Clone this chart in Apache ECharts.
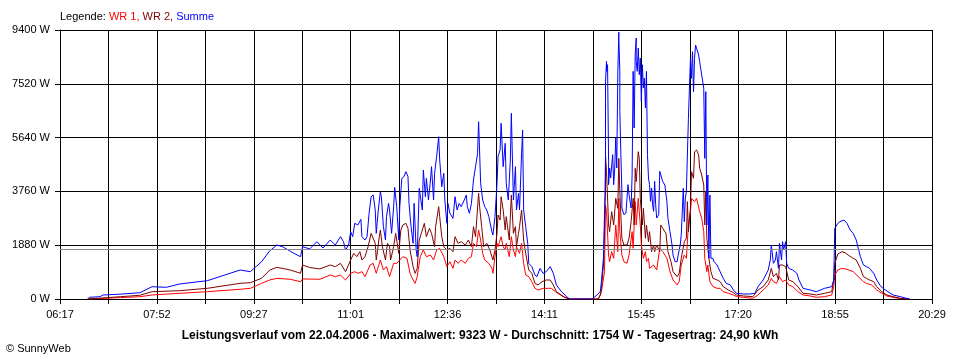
<!DOCTYPE html>
<html>
<head>
<meta charset="utf-8">
<script src="https://cdn.jsdelivr.net/npm/echarts@6/dist/echarts.min.js"></script>
<style>
html,body{margin:0;padding:0;background:#fff;}
#chart{width:960px;height:360px;}
</style>
</head>
<body>
<div id="chart"></div>
<script>
// ---- Data ----
const tickLabels = ["06:17","07:52","09:27","11:01","12:36","14:11","15:45","17:20","18:55","20:29"];
const yTicks = [0, 1880, 3760, 5640, 7520, 9400];
const averageW = 1754;
const titleText = "Leistungsverlauf vom 22.04.2006 - Maximalwert: 9323 W - Durchschnitt: 1754 W - Tagesertrag: 24,90 kWh";

const wr1 = [["06:44",0],["06:56",15],["07:16",50],["07:35",80],["07:47",140],["08:14",200],["08:41",255],["09:13",340],["09:23",374],["09:34",548],["09:42",664],["09:49",723],["10:02",688],["10:12",605],["10:14",700],["10:31",690],
["10:41",838],["10:46",780],["10:51",838],["10:56",664],["11:01",897],["11:05",955],["11:08",897],["11:12",955],["11:15",780],["11:20",1188],["11:23",1246],["11:26",897],["11:30",1362],["11:33",1013],["11:36",1130],["11:39",780],["11:43",1246],["11:46",1246],["11:49",1362],["11:52",1479],["11:56",1421],["11:59",897],["12:02",664],["12:04",547],["12:06",780],["12:09",1479],["12:12",1712],["12:15",1479],["12:19",1537],["12:22",1362],["12:25",1712],["12:28",1770],["12:32",1479],["12:35",1130],
["12:38",1304],["12:41",1071],["12:43",1362],["12:46",1246],["12:49",1362],["12:53",1246],["12:56",1421],["12:59",1479],["13:01",1945],["13:04",1828],["13:06",2411],["13:08",2061],["13:10",1595],["13:12",1362],["13:16",1246],["13:19",1071],["13:20",897],["13:22",1479],["13:24",1945],["13:25",1828],["13:27",2061],["13:28",2178],["13:30",1828],["13:32",1712],["13:33",1945],["13:36",1479],["13:38",2178],["13:40",1712],["13:42",1479],["13:43",1828],["13:46",1595],["13:48",1945],["13:50",1246],["13:52",838],["13:55",780],["13:58",606],["14:01",373],["14:04",314],["14:09",373],["14:14",373],["14:17",373],["14:21",256],["14:26",140],["14:32",23],["14:35",0],
["15:03",0],["15:06",256],["15:09",955],["15:10",3285],["15:11",3052],["15:13",1538],["15:14",1305],["15:16",1654],["15:18",1421],["15:20",2586],["15:22",1654],["15:23",3518],["15:24",2353],["15:26",1538],["15:28",1305],["15:31",1247],["15:33",1538],["15:36",2353],["15:37",1770],["15:39",3401],["15:40",2586],["15:42",3518],["15:44",2586],["15:45",1887],["15:47",1421],["15:49",1654],["15:50",1305],["15:52",1421],["15:53",1072],["15:57",1188],["16:00",1014],["16:03",1770],["16:06",1654],["16:10",1421],["16:13",955],["16:16",664],["16:20",490],["16:22",606],["16:24",1188],["16:27",1538],["16:29",1421],["16:31",2586],["16:33",3052],["16:34",3518],["16:37",3401],["16:39",3518],["16:42",3052],["16:44",2819],["16:46",2353],["16:47",1421],["16:49",955],["16:50",1188],["16:52",606],["16:55",431],["16:59",373],["17:02",373],["17:05",256],["17:10",200],
["17:15",140],["17:18",82],["17:25",58],["17:34",23],["17:39",140],["17:44",314],["17:49",489],["17:52",722],["17:54",606],["17:57",547],["18:00",780],["18:03",606],["18:06",664],["18:09",489],["18:13",431],["18:18",256],["18:23",140],["18:30",105],["18:36",58],["18:44",82],["18:51",140],["18:53",431],["18:54",839],["18:57",1013],["19:01",1072],["19:06",1037],["19:12",955],["19:17",780],["19:22",606],["19:25",547],["19:30",489],["19:35",314],["19:40",198],["19:45",105],["19:51",58],["19:58",12],["20:07",0]];

const wr2 = [["06:44",0],["06:56",30],["07:16",80],["07:35",130],["07:47",255],["08:14",290],["08:41",374],["09:13",548],["09:23",570],["09:34",723],["09:42",1013],["09:49",1107],["10:02",1013],["10:12",898],["10:14",1188],["10:21",1100],["10:31",1050],
["10:41",1188],["10:46",1130],["10:51",1246],["10:56",955],["11:01",1362],["11:04",1595],["11:07",1479],["11:10",1654],["11:12",1362],["11:15",1479],["11:18",1828],["11:21",2294],["11:22",2352],["11:25",1945],["11:26",1362],["11:29",2178],["11:30",2411],["11:32",1828],["11:35",1362],["11:37",1945],["11:39",1828],["11:40",1362],["11:43",1828],["11:45",2294],["11:48",1595],["11:50",2411],["11:52",2586],["11:55",2644],["11:57",2469],["11:59",1712],["12:02",1130],["12:04",897],["12:06",1071],["12:08",2061],["12:10",2294],["12:13",2644],["12:15",2178],["12:18",2469],["12:20",2294],["12:23",1828],["12:24",2527],["12:27",3226],["12:28",2877],["12:30",2178],["12:32",1828],["12:35",1712],
["12:38",1770],["12:41",1654],["12:43",2178],["12:46",1945],["12:49",2003],["12:53",1887],["12:56",2061],["12:59",1828],["13:01",2527],["13:03",2178],["13:06",3692],["13:07",3226],["13:09",2527],["13:11",1828],["13:14",1945],["13:17",1712],["13:20",1362],["13:22",1712],["13:24",2294],["13:25",2935],["13:27",2760],["13:28",3575],["13:30",3110],["13:32",2411],["13:33",2877],["13:36",2061],["13:38",3634],["13:40",2294],["13:42",2527],["13:43",1828],["13:45",2294],["13:46",2527],["13:48",3110],["13:50",2061],["13:52",1595],["13:55",1013],["13:58",897],["14:01",547],["14:04",489],["14:08",605],["14:12",664],["14:16",664],["14:19",489],["14:22",256],["14:29",81],["14:35",0],
["15:03",0],["15:05",140],["15:06",373],["15:08",1188],["15:09",2353],["15:10",5032],["15:11",4449],["15:13",2586],["15:14",2353],["15:16",3052],["15:18",2586],["15:20",3518],["15:22",3168],["15:23",4915],["15:24",3750],["15:26",2120],["15:28",1887],["15:31",1887],["15:33",2120],["15:35",2702],["15:37",3518],["15:38",2586],["15:39",4566],["15:40",4100],["15:42",5148],["15:43",4915],["15:44",3518],["15:46",2586],["15:47",3168],["15:49",2120],["15:50",2586],["15:52",2003],["15:53",2353],["15:55",1654],["15:57",1887],["15:58",1654],["16:00",1887],["16:03",1654],["16:04",2586],["16:06",2469],["16:09",2295],["16:11",1654],["16:14",1305],["16:16",955],["16:20",781],["16:22",897],["16:24",1421],["16:27",2003],["16:29",2120],["16:30",3401],["16:31",2353],["16:33",3168],["16:34",4449],["16:36",4216],["16:37",5148],["16:39",5206],["16:41",5032],["16:42",4566],["16:44",4333],["16:46",3983],["16:47",2586],["16:48",3750],["16:49",2120],["16:51",1421],["16:53",955],["16:55",722],["16:59",664],["17:02",606],["17:05",431],["17:10",314],
["17:15",221],["17:18",140],["17:25",105],["17:34",82],["17:39",314],["17:44",431],["17:49",664],["17:52",1072],["17:54",780],["17:57",897],["17:59",664],["18:00",1188],["18:03",1188],["18:06",1130],["18:09",664],["18:13",606],["18:18",431],["18:23",198],["18:30",175],["18:36",140],["18:44",198],["18:51",256],["18:53",664],["18:54",1246],["18:57",1572],["19:01",1654],["19:04",1619],["19:07",1537],["19:12",1421],["19:15",1363],["19:19",1072],["19:22",780],["19:25",722],["19:28",664],["19:32",606],["19:35",431],["19:40",256],["19:45",140],["19:51",82],["19:58",23],["20:07",0]];

const summe = [["06:44",0],["06:46",60],["06:56",80],["06:59",140],["07:16",170],["07:35",220],["07:47",430],["08:01",410],["08:14",525],["08:41",640],["09:13",1013],["09:23",954],["09:34",1303],["09:42",1688],["09:49",1887],["09:55",1817],["10:05",1607],["10:12",1478],["10:14",1827],["10:21",1750],["10:28",2002],["10:34",1780],
["10:41",2061],["10:46",1887],["10:51",2178],["10:54",2003],["10:56",1712],["10:59",1887],["11:01",2352],["11:03",2178],["11:05",2644],["11:08",2586],["11:11",2783],["11:12",2178],["11:15",2061],["11:17",2178],["11:19",2993],["11:21",3575],["11:23",3634],["11:25",3110],["11:26",2294],["11:28",3110],["11:30",3750],["11:31",3575],["11:33",2527],["11:35",2061],["11:36",2877],["11:38",3342],["11:39",3110],["11:41",2294],["11:43",3226],["11:44",3901],["11:46",3226],["11:48",2061],["11:49",3226],["11:51",4216],["11:53",4274],["11:55",4449],["11:57",4274],["11:58",3342],["12:00",2527],["12:02",1945],["12:03",3342],["12:05",1712],["12:06",1479],["12:08",3867],["12:09",3925],["12:11",3110],["12:12",4507],["12:14",3575],["12:15",4216],["12:17",3459],["12:19",4158],["12:20",4624],["12:22",3459],["12:23",4391],["12:25",4973],["12:27",5672],["12:28",4857],["12:30",3925],["12:32",4391],["12:33",3459],["12:35",2644],["12:36",3342],
["12:38",2993],["12:41",2818],["12:43",3575],["12:45",3110],["12:47",3342],["12:49",3226],["12:52",3459],["12:54",3634],["12:55",3226],["12:57",2993],["12:59",3342],["13:01",4158],["13:03",4624],["13:05",5089],["13:06",6196],["13:08",4041],["13:10",3459],["13:12",3226],["13:14",3110],["13:16",2877],["13:19",2352],["13:20",2236],["13:22",2877],["13:24",4041],["13:25",4973],["13:27",5206],["13:28",6138],["13:30",4624],["13:32",5439],["13:33",4041],["13:35",3459],["13:37",4857],["13:38",6487],["13:40",3459],["13:42",4624],["13:43",3110],["13:45",3692],["13:46",3110],["13:48",5089],["13:49",5905],["13:50",3110],["13:52",2527],["13:54",1945],["13:55",1246],["13:58",1130],["14:01",838],["14:03",780],["14:06",1071],["14:09",897],["14:12",955],["14:16",1130],["14:19",897],["14:22",489],["14:27",256],["14:32",81],["14:35",0],
["14:57",0],["15:02",151],["15:05",268],["15:06",617],["15:08",1432],["15:09",2947],["15:10",3762],["15:10",7605],["15:11",8304],["15:11",7955],["15:12",8188],["15:13",4810],["15:13",3995],["15:14",4577],["15:15",4228],["15:17",5043],["15:18",3995],["15:19",4577],["15:20",5625],["15:21",4577],["15:22",7838],["15:23",9323],["15:23",9120],["15:24",7955],["15:24",6557],["15:25",5043],["15:26",3762],["15:26",3180],["15:28",2947],["15:30",3005],["15:31",3529],["15:32",3995],["15:33",3646],["15:35",3180],["15:36",4344],["15:37",7955],["15:38",5975],["15:39",8537],["15:40",9120],["15:40",8304],["15:41",7955],["15:42",8770],["15:43",7838],["15:44",8421],["15:45",6907],["15:46",8188],["15:47",7373],["15:48",7722],["15:49",6674],["15:50",7955],["15:51",5043],["15:52",4228],["15:53",3995],["15:54",3413],["15:55",3879],["15:56",3296],["15:57",3063],["15:58",4111],["15:59",3296],["16:00",2830],["16:02",2947],["16:03",4461],
["16:06",4100],["16:08",3983],["16:10",3401],["16:11",2819],["16:13",2353],["16:15",1887],["16:16",1538],["16:18",1305],["16:20",1305],["16:21",1538],["16:23",1887],["16:24",2236],["16:26",3867],["16:27",2702],["16:28",3518],["16:29",3750],["16:31",6313],["16:33",8409],["16:34",7710],["16:35",8642],["16:36",7245],["16:37",8409],["16:38",8875],["16:39",8817],["16:41",8526],["16:42",8293],["16:44",7827],["16:46",7361],["16:47",4915],["16:48",7245],["16:49",2586],["16:50",4333],["16:51",1421],["16:52",3634],["16:53",1421],["16:55",1421],["16:56",1305],["16:59",1188],["17:02",955],["17:05",722],["17:08",547],["17:12",490],
["17:15",314],["17:18",198],["17:25",175],["17:31",175],["17:36",198],["17:39",431],["17:44",664],["17:49",1013],["17:51",1363],["17:52",1887],["17:54",1246],["17:56",1363],["17:57",1654],["17:59",1072],["18:00",1945],["18:02",1363],["18:03",2003],["18:04",1712],["18:06",2003],["18:07",1246],["18:09",1072],["18:13",1013],["18:17",897],["18:19",664],["18:23",373],["18:30",314],["18:36",256],["18:44",373],["18:51",431],["18:53",664],["18:54",2469],["18:57",2644],["18:59",2702],["19:03",2760],["19:06",2644],["19:09",2411],["19:12",2294],["19:15",2061],["19:19",1479],["19:22",1188],["19:25",1130],["19:28",1072],["19:32",897],["19:35",664],["19:38",489],["19:41",373],["19:46",256],["19:51",140],["19:58",82],["20:04",23],["20:07",0]];

// ---- Helpers ----
const START_MIN = 6 * 60 + 17;      // 06:17, left edge of the axis
const SCALE = 3;                     // axis units per minute (keeps interval an integer)
const TICK_STEP = 142;               // 47.33 minutes * 3
function toMinutes(s) { const p = s.split(':'); return (+p[0]) * 60 + (+p[1]); }
function toPoints(arr) { return arr.map(d => [(toMinutes(d[0]) - START_MIN) * SCALE, d[1]]); }
const X_MAX = (toMinutes(tickLabels[tickLabels.length - 1]) - START_MIN) * SCALE;

const FONT = '"Liberation Sans", Arial, sans-serif';
const chart = echarts.init(document.getElementById('chart'), null, { renderer: 'canvas' });

const option = {
  animation: false,
  backgroundColor: '#ffffff',
  textStyle: { fontFamily: FONT },
  title: [
    {
      left: 60, top: 11, padding: 0,
      text: '{k|Legende: }{a|WR 1, }{b|WR 2, }{c|Summe}',
      textStyle: {
        fontWeight: 'normal', fontSize: 11,
        rich: {
          k: { color: '#000000', fontSize: 11, fontWeight: 'normal', fontFamily: FONT },
          a: { color: '#ff0000', fontSize: 11, fontWeight: 'normal', fontFamily: FONT },
          b: { color: '#800000', fontSize: 11, fontWeight: 'normal', fontFamily: FONT },
          c: { color: '#0000ff', fontSize: 11, fontWeight: 'normal', fontFamily: FONT }
        }
      }
    },
    {
      left: 'center', top: 330, padding: 0,
      text: titleText,
      textStyle: { color: '#000000', fontSize: 12, fontWeight: 'bold', fontFamily: FONT }
    },
    {
      left: 6, top: 343, padding: 0,
      text: '© SunnyWeb',
      textStyle: { color: '#000000', fontSize: 11, fontWeight: 'normal', fontFamily: FONT }
    }
  ],
  grid: { left: 60, right: 28, top: 30, bottom: 61, containLabel: false },
  xAxis: {
    type: 'value',
    min: 0, max: X_MAX, interval: TICK_STEP,
    axisLine: { show: true, lineStyle: { color: '#000000', width: 1 } },
    axisTick: { show: true, length: 5, lineStyle: { color: '#000000' } },
    splitLine: { show: true, lineStyle: { color: '#000000', width: 1 } },
    axisLabel: {
      show: true, interval: 0, margin: 10, color: '#000000', fontSize: 11, fontFamily: FONT,
      showMinLabel: true, showMaxLabel: true, hideOverlap: false,
      formatter: function (v) {
        const i = Math.round(v / TICK_STEP);
        return (i % 2 === 0) ? (tickLabels[i / 2] || '') : '';
      }
    }
  },
  yAxis: {
    type: 'value',
    min: yTicks[0], max: yTicks[yTicks.length - 1], interval: yTicks[1] - yTicks[0],
    axisLine: { show: true, lineStyle: { color: '#000000', width: 1 } },
    axisTick: { show: true, length: 5, lineStyle: { color: '#000000' } },
    splitLine: { show: true, lineStyle: { color: '#000000', width: 1 } },
    axisLabel: {
      margin: 10, color: '#000000', fontSize: 11, fontFamily: FONT,
      formatter: function (v) { return v + ' W'; }
    }
  },
  series: [
    {
      name: 'WR 1', type: 'line', data: toPoints(wr1), showSymbol: false, symbol: 'none',
      lineStyle: { color: '#ff0000', width: 1 }, itemStyle: { color: '#ff0000' }, z: 2
    },
    {
      name: 'WR 2', type: 'line', data: toPoints(wr2), showSymbol: false, symbol: 'none',
      lineStyle: { color: '#800000', width: 1 }, itemStyle: { color: '#800000' }, z: 3
    },
    {
      name: 'Summe', type: 'line', data: toPoints(summe), showSymbol: false, symbol: 'none',
      lineStyle: { color: '#0000ff', width: 1 }, itemStyle: { color: '#0000ff' }, z: 4,
      markLine: {
        silent: true, symbol: 'none', animation: false,
        label: { show: false },
        lineStyle: { color: '#8c8c8c', width: 1, type: 'solid' },
        data: [{ yAxis: averageW }]
      }
    }
  ]
};
chart.setOption(option);
</script>
</body>
</html>
